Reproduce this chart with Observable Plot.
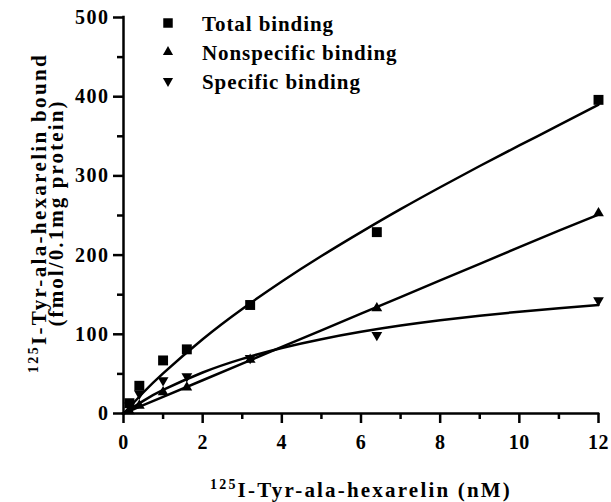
<!DOCTYPE html>
<html><head><meta charset="utf-8">
<script src="https://cdn.jsdelivr.net/npm/d3@7"></script>
<script src="https://cdn.jsdelivr.net/npm/@observablehq/plot@0.6"></script>
<style>body{margin:0;background:#fff}</style>
</head><body><div id="chart"></div>
<script>
// Data
const conc = [0.15, 0.4, 1.0, 1.6, 3.2, 6.4, 12];
const totalBinding = [13, 35, 67, 81, 137, 229, 396];
const nonspecificBinding = [3, 10, 27, 33, 68, 133, 253];
const specificBinding = [10, 25, 42, 47, 70, 99, 143];
// fitted curves
const fitX = [0, 0.5, 1, 2, 3, 4, 5, 6, 7, 8, 9, 10, 11, 12];
const fitTotal = [0, 26.5, 50.7, 93.8, 132, 166.7, 198.8, 229, 258, 285.7, 312.5, 338.5, 364, 390];
const fitNonspecific = [0, 10.5, 21, 42, 63, 84, 105, 126, 147, 168, 189, 210, 231, 251];
const fitSpecific = [0, 16, 29.7, 51.8, 69, 82.7, 93.8, 103.1, 111, 117.7, 123.5, 128.5, 133, 137];
const xTicks = [0, 2, 4, 6, 8, 10, 12];
const xMinorTicks = [1, 3, 5, 7, 9, 11];
const yTicks = [0, 100, 200, 300, 400, 500];
const yMinorTicks = [50, 150, 250, 350, 450];
const legendLabels = ["Total binding", "Nonspecific binding", "Specific binding"];
const xTitle = ["125", "I-Tyr-ala-hexarelin (nM)"];
const yTitle1 = ["125", "I-Tyr-ala-hexarelin bound"];
const yTitle2 = "(fmol/0.1mg protein)";

const triDown = {
  draw(ctx, size) {
    const y = -Math.sqrt(size / (Math.sqrt(3) * 3));
    ctx.moveTo(0, -y * 2);
    ctx.lineTo(Math.sqrt(3) * y, y);
    ctx.lineTo(-Math.sqrt(3) * y, y);
    ctx.closePath();
  }
};

const FONT = "Liberation Serif";
const SW = 2.5;
const W = 611, H = 502, ML = 123, MR = 13, MT = 17, MB = 89;

const plot = Plot.plot({
  width: W, height: H,
  marginLeft: ML, marginRight: MR, marginTop: MT, marginBottom: MB,
  style: {fontFamily: FONT, fontWeight: "bold", background: "white", overflow: "visible", color: "black"},
  x: {domain: [0, 12]},
  y: {domain: [0, 500]},
  marks: [
    Plot.axisX(xTicks, {tickSize: 10, tickPadding: 11, strokeWidth: SW, fontSize: 20, label: null}),
    Plot.axisX(xMinorTicks, {tickSize: 6, strokeWidth: SW, tickFormat: () => "", label: null}),
    Plot.axisY(yTicks, {tickSize: 10, tickPadding: 4, strokeWidth: SW, fontSize: 20, label: null}),
    Plot.axisY(yMinorTicks, {tickSize: 6, strokeWidth: SW, tickFormat: () => "", label: null}),
    Plot.ruleX([0], {y1: 0, y2: 500, strokeWidth: SW, stroke: "black", strokeLinecap: "square"}),
    Plot.ruleY([0], {x1: 0, x2: 12, strokeWidth: SW, stroke: "black", strokeLinecap: "square"}),
    Plot.line(fitX, {x: d => d, y: (d, i) => fitTotal[i], curve: "natural", strokeWidth: SW, stroke: "black"}),
    Plot.line(fitX, {x: d => d, y: (d, i) => fitNonspecific[i], curve: "linear", strokeWidth: SW, stroke: "black"}),
    Plot.line(fitX, {x: d => d, y: (d, i) => fitSpecific[i], curve: "natural", strokeWidth: SW, stroke: "black"}),
    Plot.dot(conc, {x: d => d, y: (d, i) => totalBinding[i], symbol: "square", r: 5.6, fill: "black"}),
    Plot.dot(conc, {x: d => d, y: (d, i) => nonspecificBinding[i], symbol: "triangle", r: 4, fill: "black"}),
    Plot.dot(conc, {x: d => d, y: (d, i) => specificBinding[i], symbol: triDown, r: 4, fill: "black"})
  ]
});

document.getElementById("chart").appendChild(plot);
const svg = d3.select(plot);
svg.selectAll('g[aria-label="y-axis tick label"] text').attr("letter-spacing", "1.5px");
svg.selectAll('g[aria-label="x-axis tick label"] text').attr("letter-spacing", "0.5px");

function fitLength(sel, target) {
  const n = sel.text().length;
  const L = sel.node().getComputedTextLength();
  const ls = (target - L) / n;
  sel.attr("letter-spacing", ls + "px");
  return ls;
}

// Legend
const legendSymbols = [d3.symbolSquare, d3.symbolTriangle, triDown];
const legendSizes = [90, 45, 45];
const legendY = [23, 52, 81];
const lg = svg.append("g").attr("font-family", FONT).attr("font-weight", "bold").attr("font-size", 21).attr("text-anchor", "start");
let legendLS = null;
legendLabels.forEach((label, i) => {
  lg.append("path")
    .attr("d", d3.symbol(legendSymbols[i], legendSizes[i])())
    .attr("transform", `translate(168,${legendY[i]})`)
    .attr("fill", "black");
  const t = lg.append("text")
    .attr("x", 202).attr("y", legendY[i] + 8)
    .text(label);
  if (legendLS === null) legendLS = fitLength(t, 132);
  else t.attr("letter-spacing", legendLS + "px");
});

// X title
const xt = svg.append("text")
  .attr("x", 361).attr("y", 497)
  .attr("text-anchor", "middle")
  .attr("font-family", FONT).attr("font-weight", "bold").attr("font-size", 21);
xt.append("tspan").attr("font-size", 14).attr("dy", -8).text(xTitle[0]);
xt.append("tspan").attr("dy", 8).text(xTitle[1]);
fitLength(xt, 302);

// Y title
const yt1 = svg.append("text")
  .attr("transform", "translate(46,213) rotate(-90)")
  .attr("text-anchor", "middle")
  .attr("font-family", FONT).attr("font-weight", "bold").attr("font-size", 21);
yt1.append("tspan").attr("font-size", 14).attr("dy", -8).text(yTitle1[0]);
yt1.append("tspan").attr("dy", 8).text(yTitle1[1]);
fitLength(yt1, 320);
const yt2 = svg.append("text")
  .attr("transform", "translate(63,213) rotate(-90)")
  .attr("text-anchor", "middle")
  .attr("font-family", FONT).attr("font-weight", "bold").attr("font-size", 21)
  .text(yTitle2);
fitLength(yt2, 227);
</script>
</body></html>
